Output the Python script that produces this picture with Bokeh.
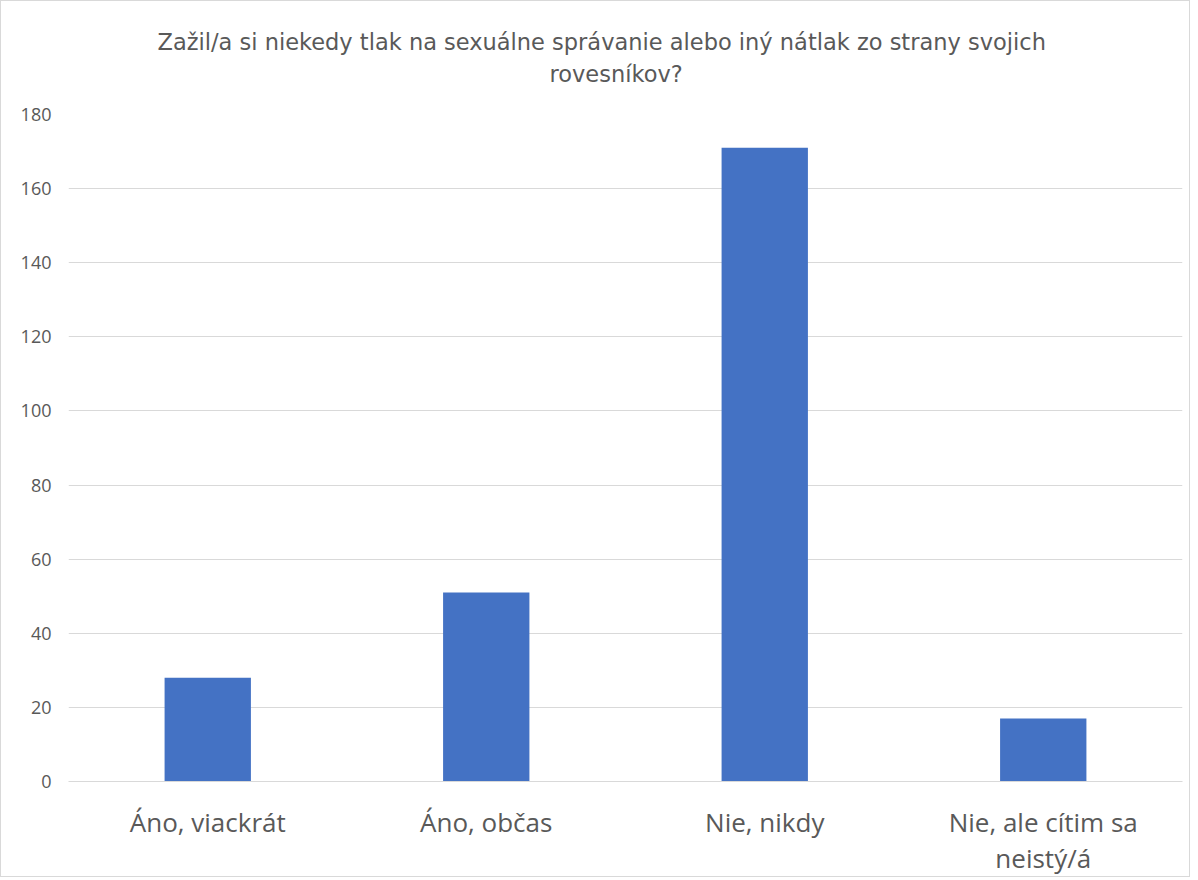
from bokeh.plotting import figure
from bokeh.models import Title, Range1d, FixedTicker, LinearAxis
from bokeh.embed import file_html
from bokeh.resources import INLINE

categories = ["Áno, viackrát", "Áno, občas", "Nie, nikdy", "Nie, ale cítim sa neistý/á"]
label_line1 = ["Áno, viackrát", "Áno, občas", "Nie, nikdy", "Nie, ale cítim sa"]
label_line2 = ["", "", "", "neistý/á"]
counts = [28, 51, 171, 17]
y_ticks = [0, 20, 40, 60, 80, 100, 120, 140, 160, 180]
title_lines = ["Zažil/a si niekedy tlak na sexuálne správanie alebo iný nátlak zo strany svojich", "rovesníkov?"]

TXT = "#595959"

# numeric positions of the category slots (slot centres at 0.5, 1.5, ...)
xpos = [i + 0.5 for i in range(len(categories))]

p = figure(width=1190, height=877, output_backend="svg",
           toolbar_location=None, min_border_left=67, min_border_right=9,
           min_border_top=113, min_border_bottom=90)
p.styles = {"border": "1px solid #d9d9d9"}
p.x_range = Range1d(0, len(categories))
p.y_range = Range1d(0, 180)

p.vbar(x=xpos, top=counts, width=0.31, color="#4472C4", line_color=None)

# titles: first added -> nearest to frame; p.title outermost
p.add_layout(Title(text=" ", text_font_size="1px", standoff=23), "above")
p.add_layout(Title(text=title_lines[1], align="left", offset=481, text_font="DejaVu Sans",
                   text_font_size="22.5px", text_font_style="normal", text_color=TXT,
                   standoff=4), "above")
p.title.text = title_lines[0]
p.title.align = "left"
p.title.offset = 89
p.title.text_font = "DejaVu Sans"
p.title.text_font_size = "22.5px"
p.title.text_font_style = "normal"
p.title.text_color = TXT
p.title.standoff = 4

p.outline_line_color = None
p.xgrid.grid_line_color = None
p.ygrid.grid_line_color = "#d9d9d9"
p.ygrid.grid_line_width = 1
p.yaxis.ticker = FixedTicker(ticks=y_ticks)
p.yaxis.axis_line_color = None
p.yaxis.major_tick_line_color = None
p.yaxis.major_tick_out = 0
p.yaxis.major_tick_in = 0
p.yaxis.minor_tick_line_color = None
p.yaxis.major_label_text_font = "Open Sans"
p.yaxis.major_label_text_font_size = "18px"
p.yaxis.major_label_text_color = TXT
p.yaxis.major_label_standoff = 17

def style_x(ax, labels, standoff):
    ax.ticker = FixedTicker(ticks=xpos)
    ax.major_tick_line_color = None
    ax.minor_tick_line_color = None
    ax.major_tick_out = 0
    ax.major_tick_in = 0
    ax.major_label_text_font = "Open Sans"
    ax.major_label_text_font_size = "26px"
    ax.major_label_text_color = TXT
    ax.major_label_standoff = standoff
    ax.major_label_overrides = dict(zip(xpos, labels))

xa = p.xaxis[0]
xa.axis_line_color = "#d9d9d9"
style_x(xa, label_line1, 22)

xa2 = LinearAxis(axis_line_color=None)
style_x(xa2, label_line2, -3)
p.add_layout(xa2, "below")

open("out.html", "w").write(file_html(p, INLINE))
